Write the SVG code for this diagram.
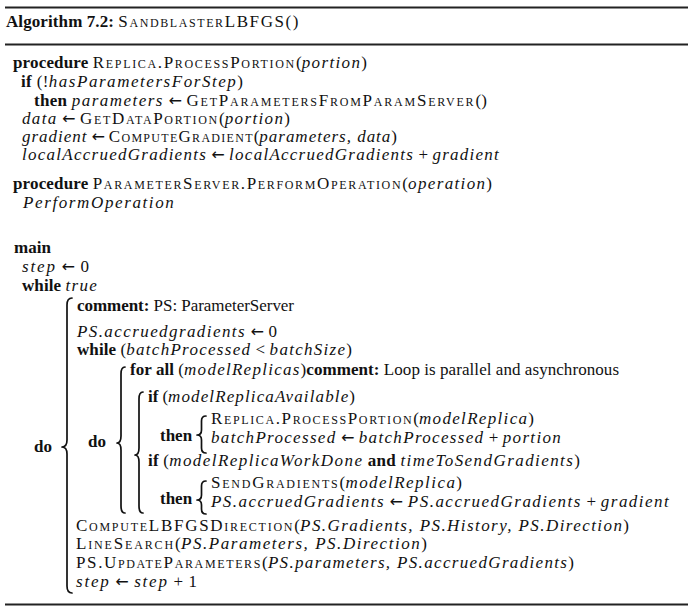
<svg xmlns="http://www.w3.org/2000/svg" width="690" height="610" viewBox="0 0 690 610">
<style>
text{font-family:"Liberation Serif","DejaVu Serif",serif;font-size:17px;fill:#111}
.b{font-weight:bold}
.sc{font-variant:small-caps;letter-spacing:1.5px}
.m{font-style:italic;letter-spacing:1.2px}
.ar{font-family:"DejaVu Sans",sans-serif;font-size:16px}
.rule{stroke:#222;stroke-width:2}
.brace{fill:none;stroke:#111;stroke-width:1.7;stroke-linecap:round;stroke-linejoin:round}
</style>
<rect width="690" height="610" fill="#fff"/>
<g id="rules">
<line class="rule" x1="5" y1="7.5" x2="688" y2="7.5" stroke="#444"/>
<line class="rule" x1="5" y1="44.5" x2="688" y2="44.5"/>
<line class="rule" x1="5" y1="604.5" x2="688" y2="604.5"/>
</g>
<g id="title">
<text x="6" y="27" textLength="294"><tspan class="b">Algorithm 7.2:</tspan> <tspan class="sc">SandblasterLBFGS()</tspan></text>
</g>
<g id="replica-procedure">
<text x="13" y="68" textLength="354"><tspan class="b">procedure</tspan> <tspan class="sc">Replica.ProcessPortion</tspan>(<tspan class="m">portion</tspan>)</text>
<text x="21" y="87" textLength="222"><tspan class="b">if</tspan> (!<tspan class="m">hasParametersForStep</tspan>)</text>
<text x="34" y="105.5" textLength="453"><tspan class="b">then</tspan> <tspan class="m">parameters</tspan> <tspan class="ar">←</tspan> <tspan class="sc">GetParametersFromParamServer</tspan>()</text>
<text x="22" y="124" textLength="268"><tspan class="m">data</tspan> <tspan class="ar">←</tspan> <tspan class="sc">GetDataPortion</tspan>(<tspan class="m">portion</tspan>)</text>
<text x="22" y="142" textLength="375"><tspan class="m">gradient</tspan> <tspan class="ar">←</tspan> <tspan class="sc">ComputeGradient</tspan>(<tspan class="m">parameters, data</tspan>)</text>
<text x="22" y="160" textLength="478"><tspan class="m">localAccruedGradients</tspan> <tspan class="ar">←</tspan> <tspan class="m">localAccruedGradients</tspan> + <tspan class="m">gradient</tspan></text>
</g>
<g id="server-procedure">
<text x="13" y="189" textLength="479"><tspan class="b">procedure</tspan> <tspan class="sc">ParameterServer.PerformOperation</tspan>(<tspan class="m">operation</tspan>)</text>
<text x="23" y="207.5" textLength="152"><tspan class="m">PerformOperation</tspan></text>
</g>
<g id="main">
<text x="14" y="253" class="b">main</text>
<text x="22" y="272" textLength="67"><tspan class="m">step</tspan> <tspan class="ar">←</tspan> 0</text>
<text x="22" y="291" textLength="76"><tspan class="b">while</tspan> <tspan class="m">true</tspan></text>
<text x="34" y="452" class="b">do</text>
<text x="77" y="310.5" textLength="217"><tspan class="b">comment:</tspan> PS: ParameterServer</text>
<text x="77" y="337" textLength="200"><tspan class="m">PS.accruedgradients</tspan> <tspan class="ar">←</tspan> 0</text>
<text x="77" y="355" textLength="275"><tspan class="b">while</tspan> (<tspan class="m">batchProcessed</tspan> &lt; <tspan class="m">batchSize</tspan>)</text>
<text x="88" y="447" class="b">do</text>
<text x="130" y="374.5" textLength="489"><tspan class="b">for all</tspan> (<tspan class="m">modelReplicas</tspan>)<tspan class="b">comment:</tspan> Loop is parallel and asynchronous</text>
<text x="148" y="402" textLength="207"><tspan class="b">if</tspan> (<tspan class="m">modelReplicaAvailable</tspan>)</text>
<text x="160" y="441" class="b">then</text>
<text x="211" y="423.5" textLength="323"><tspan class="sc">Replica.ProcessPortion</tspan>(<tspan class="m">modelReplica</tspan>)</text>
<text x="211" y="442.5" textLength="351"><tspan class="m">batchProcessed</tspan> <tspan class="ar">←</tspan> <tspan class="m">batchProcessed</tspan> + <tspan class="m">portion</tspan></text>
<text x="148" y="465.5" textLength="432"><tspan class="b">if</tspan> (<tspan class="m">modelReplicaWorkDone</tspan> <tspan class="b">and</tspan> <tspan class="m">timeToSendGradients</tspan>)</text>
<text x="160" y="504" class="b">then</text>
<text x="211" y="487.5" textLength="251"><tspan class="sc">SendGradients</tspan>(<tspan class="m">modelReplica</tspan>)</text>
<text x="211" y="506.5" textLength="459"><tspan class="m">PS.accruedGradients</tspan> <tspan class="ar">←</tspan> <tspan class="m">PS.accruedGradients</tspan> + <tspan class="m">gradient</tspan></text>
<text x="76" y="531" textLength="553"><tspan class="sc">ComputeLBFGSDirection</tspan>(<tspan class="m">PS.Gradients, PS.History, PS.Direction</tspan>)</text>
<text x="76" y="549" textLength="351"><tspan class="sc">LineSearch</tspan>(<tspan class="m">PS.Parameters, PS.Direction</tspan>)</text>
<text x="76" y="568" textLength="498"><tspan class="sc">PS.UpdateParameters</tspan>(<tspan class="m">PS.parameters, PS.accruedGradients</tspan>)</text>
<text x="76" y="587" textLength="121"><tspan class="m">step</tspan> <tspan class="ar">←</tspan> <tspan class="m">step</tspan> + 1</text>
</g>
<g id="braces">
<path class="brace" d="M72,298 Q67,298 67,305 L67,440 Q67,447 62,447 Q67,447 67,454 L67,586 Q67,593 72,593"/>
<path class="brace" d="M125,367 Q121,367 121,374 L121,436 Q121,443 117,443 Q121,443 121,450 L121,506 Q121,513 125,513"/>
<path class="brace" d="M143,392 Q139,392 139,399 L139,448 Q139,455 135,455 Q139,455 139,462 L139,506 Q139,513 143,513"/>
<path class="brace" d="M206,416 Q201.5,416 201.5,421 L201.5,430 Q201.5,435 197,435 Q201.5,435 201.5,440 L201.5,448 Q201.5,453 206,453"/>
<path class="brace" d="M206,481 Q201.5,481 201.5,486 L201.5,495 Q201.5,500 197,500 Q201.5,500 201.5,505 L201.5,509 Q201.5,514 206,514"/>
</g>
</svg>
